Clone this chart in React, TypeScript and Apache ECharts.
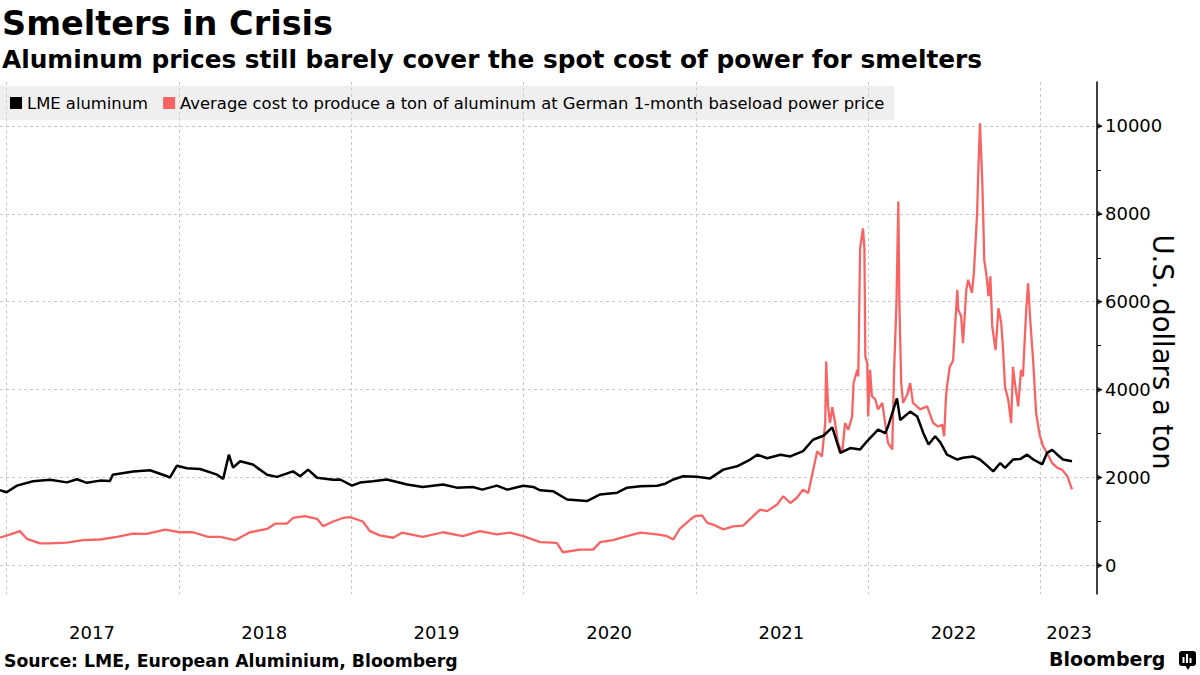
import React, { useEffect, useRef } from 'react';
import * as echarts from 'echarts';

const lmeDates = [
    '2016-12-18', '2017-01-01', '2017-01-23', '2017-02-26', '2017-04-03', '2017-05-09', '2017-05-30',
    '2017-06-20', '2017-07-18', '2017-08-08', '2017-08-14', '2017-09-26', '2017-11-01', '2017-12-07',
    '2017-12-13', '2017-12-28', '2018-01-18', '2018-02-15', '2018-03-23', '2018-04-05', '2018-04-17',
    '2018-04-26', '2018-05-11', '2018-06-07', '2018-07-07', '2018-07-28', '2018-08-31', '2018-09-15',
    '2018-10-02', '2018-10-21', '2018-11-24', '2018-12-09', '2019-01-03', '2019-01-20', '2019-02-16',
    '2019-03-18', '2019-04-30', '2019-06-02', '2019-07-15', '2019-08-13', '2019-09-16', '2019-10-06',
    '2019-11-06', '2019-11-28', '2020-01-01', '2020-01-22', '2020-02-06', '2020-03-04', '2020-04-03',
    '2020-05-15', '2020-06-12', '2020-07-18', '2020-08-08', '2020-09-05', '2020-10-11', '2020-10-28',
    '2020-11-14', '2020-12-05', '2021-01-03', '2021-01-31', '2021-02-28', '2021-03-29', '2021-04-26',
    '2021-05-11', '2021-06-01', '2021-06-29', '2021-07-20', '2021-08-16', '2021-09-06', '2021-09-28',
    '2021-10-17', '2021-11-03', '2021-11-24', '2021-12-15', '2021-12-30', '2022-01-22', '2022-02-06',
    '2022-02-12', '2022-03-03', '2022-03-10', '2022-03-31', '2022-04-15', '2022-04-28', '2022-05-09',
    '2022-05-23', '2022-06-03', '2022-06-17', '2022-07-09', '2022-07-21', '2022-08-11', '2022-08-26',
    '2022-09-10', '2022-09-23', '2022-10-08', '2022-10-18', '2022-11-04', '2022-11-19', '2022-12-04',
    '2022-12-17', '2023-01-05', '2023-01-15', '2023-01-26', '2023-02-06', '2023-02-18', '2023-03-09',
];
const lmeValues = [
    1710, 1665, 1815, 1915, 1950, 1890, 1960,
    1880, 1930, 1920, 2065, 2135, 2165, 2030,
    2000, 2270, 2210, 2195, 2065, 1970, 2520,
    2225, 2370, 2295, 2065, 2015, 2140, 2030,
    2180, 1995, 1950, 1955, 1815, 1885, 1915,
    1955, 1840, 1785, 1840, 1770, 1785, 1725,
    1815, 1725, 1815, 1785, 1710, 1690, 1500,
    1465, 1615, 1655, 1770, 1800, 1815, 1860,
    1955, 2030, 2020, 1980, 2180, 2255, 2410,
    2520, 2440, 2520, 2480, 2600, 2860, 2950,
    3140, 2560, 2670, 2640, 2830, 3090, 3010,
    3160, 3800, 3310, 3500, 3390, 3010, 2750,
    2940, 2800, 2520, 2410, 2450, 2480, 2410,
    2270, 2140, 2330, 2220, 2410, 2420, 2520,
    2410, 2300, 2560, 2630, 2520, 2410, 2370,
];

const costDates = [
    '2016-12-18', '2017-01-14', '2017-01-29', '2017-02-13', '2017-03-13', '2017-04-03', '2017-05-09',
    '2017-06-12', '2017-07-18', '2017-08-23', '2017-09-26', '2017-10-25', '2017-12-03', '2018-01-03',
    '2018-01-31', '2018-03-04', '2018-03-30', '2018-04-30', '2018-06-01', '2018-07-07', '2018-07-24',
    '2018-08-18', '2018-08-31', '2018-09-25', '2018-10-21', '2018-11-03', '2018-11-24', '2018-12-15',
    '2018-12-30', '2019-01-26', '2019-02-10', '2019-03-03', '2019-03-31', '2019-04-19', '2019-06-02',
    '2019-07-15', '2019-08-26', '2019-10-01', '2019-11-06', '2019-12-04', '2020-01-01', '2020-02-06',
    '2020-03-12', '2020-03-25', '2020-04-30', '2020-05-28', '2020-06-12', '2020-07-09', '2020-08-08',
    '2020-09-05', '2020-10-11', '2020-11-01', '2020-11-14', '2020-11-28', '2020-12-20', '2020-12-30',
    '2021-01-14', '2021-01-25', '2021-02-06', '2021-02-28', '2021-03-21', '2021-04-11', '2021-05-02',
    '2021-05-17', '2021-06-01', '2021-06-22', '2021-07-05', '2021-07-20', '2021-08-03', '2021-08-16',
    '2021-08-27', '2021-09-06', '2021-09-15', '2021-09-25', '2021-10-02', '2021-10-04', '2021-10-08',
    '2021-10-12', '2021-10-17', '2021-10-23', '2021-10-29', '2021-11-07', '2021-11-13', '2021-11-20',
    '2021-11-28', '2021-12-01', '2021-12-09', '2021-12-11', '2021-12-15', '2021-12-21', '2021-12-24',
    '2021-12-26', '2021-12-30', '2022-01-01', '2022-01-05', '2022-01-09', '2022-01-16', '2022-01-22',
    '2022-01-31', '2022-02-06', '2022-02-12', '2022-02-21', '2022-02-25', '2022-03-02', '2022-03-06',
    '2022-03-08', '2022-03-12', '2022-03-16', '2022-03-25', '2022-03-31', '2022-04-06', '2022-04-21',
    '2022-05-06', '2022-05-19', '2022-05-29', '2022-06-07', '2022-06-11', '2022-06-15', '2022-06-17',
    '2022-06-23', '2022-06-30', '2022-07-04', '2022-07-09', '2022-07-11', '2022-07-17', '2022-07-21',
    '2022-07-28', '2022-08-01', '2022-08-09', '2022-08-13', '2022-08-20', '2022-08-22', '2022-08-26',
    '2022-08-31', '2022-09-02', '2022-09-04', '2022-09-09', '2022-09-13', '2022-09-17', '2022-09-21',
    '2022-09-28', '2022-10-02', '2022-10-04', '2022-10-10', '2022-10-14', '2022-10-18', '2022-10-25',
    '2022-10-31', '2022-11-04', '2022-11-08', '2022-11-15', '2022-11-21', '2022-11-25', '2022-12-02',
    '2022-12-06', '2022-12-10', '2022-12-17', '2022-12-23', '2022-12-31', '2023-01-07', '2023-01-15',
    '2023-01-26', '2023-02-06', '2023-02-16', '2023-02-27', '2023-03-09',
];
const costValues = [
    630, 725, 780, 605, 500, 500, 520,
    575, 590, 650, 725, 720, 815, 755,
    755, 650, 650, 575, 755, 830, 950,
    950, 1080, 1120, 1060, 890, 1000, 1080,
    1100, 1000, 780, 685, 630, 745, 650,
    755, 665, 780, 705, 745, 665, 530,
    515, 300, 360, 360, 530, 575, 665,
    745, 705, 665, 590, 840, 1045, 1120,
    1140, 970, 930, 820, 890, 905, 1120,
    1270, 1235, 1385, 1575, 1420, 1540, 1725,
    1650, 2150, 2600, 2480, 3240, 4640, 3630,
    3240, 3600, 3240, 2790, 2560, 3240, 3090,
    3390, 4150, 4450, 4300, 7220, 7670, 7220,
    4750, 4600, 3390, 4450, 3850, 3780, 3550,
    3700, 3240, 2790, 2640, 4450, 5970, 8280,
    6050, 4150, 3700, 3890, 4150, 3700, 3550,
    3620, 3240, 3160, 3200, 2940, 3840, 4070,
    4520, 4660, 5400, 6270, 5820, 5670, 5060,
    6270, 6500, 6200, 6650, 8015, 8840, 10060,
    8690, 7860, 6950, 6580, 6130, 6580, 5440,
    4900, 5520, 5850, 5520, 4900, 4070, 3760,
    3240, 4520, 4150, 3620, 4450, 4300, 5820,
    6420, 5670, 4600, 3460, 2940, 2710, 2560,
    2330, 2220, 2180, 2030, 1730,
];

const yearStarts = ['2017-01-01', '2018-01-01', '2019-01-01', '2020-01-01', '2021-01-01', '2022-01-01', '2023-01-01'];
const yearLabelDates = ['2017-07-01', '2018-07-01', '2019-07-01', '2020-07-01', '2021-07-01', '2022-07-01', '2023-03-03'];
const yLabelValues = [0, 2000, 4000, 6000, 8000, 10000];
const yMinorValues = [1000, 3000, 5000, 7000, 9000];

const X_MIN = '2016-12-18';
const X_MAX = '2023-05-01';
const FONT = 'DejaVu Sans';
const RED = '#f86464';

const ts = (d: string) => Date.UTC(+d.slice(0, 4), +d.slice(5, 7) - 1, +d.slice(8, 10));

const App: React.FC = () => {
    const chartRef = useRef<HTMLDivElement>(null);

    useEffect(() => {
        const chart = echarts.init(chartRef.current!, null, { renderer: 'svg' });
        const xMaxTs = ts(X_MAX);

        const options = {
            animation: false,
            textStyle: { fontFamily: FONT },
            title: [
                {
                    text: 'Smelters in Crisis',
                    left: 0,
                    top: 6,
                    padding: [0, 2],
                    textStyle: { fontSize: 33.5, fontWeight: 'bold', color: '#000', fontFamily: FONT },
                },
                {
                    text: 'Aluminum prices still barely cover the spot cost of power for smelters',
                    left: 0,
                    top: 47,
                    padding: [0, 2],
                    textStyle: { fontSize: 24.8, fontWeight: 'bold', color: '#000', fontFamily: FONT },
                },
                {
                    text: 'Source: LME, European Aluminium, Bloomberg',
                    left: 4,
                    top: 652,
                    padding: 0,
                    textStyle: { fontSize: 17.3, fontWeight: 'bold', color: '#000', fontFamily: FONT },
                },
            ],
            legend: {
                data: ['LME aluminum', 'Average cost to produce a ton of aluminum at German 1-month baseload power price'],
                left: 0,
                top: 86,
                padding: [9, 10, 9, 10],
                itemGap: 15,
                itemWidth: 12,
                itemHeight: 12,
                icon: 'rect',
                backgroundColor: 'rgba(215,215,215,0.4)',
                textStyle: { fontSize: 16.4, color: '#000', fontFamily: FONT },
            },
            grid: { left: 0, right: 103, top: 82, bottom: 81, outerBoundsMode: 'none', containLabel: false },
            xAxis: {
                type: 'value',
                min: ts(X_MIN),
                max: xMaxTs,
                axisLine: { show: false },
                axisTick: { show: false, customValues: yearStarts.map(ts) },
                axisLabel: {
                    customValues: yearLabelDates.map(ts),
                    formatter: (v: number) => String(new Date(v).getUTCFullYear()),
                    fontSize: 18,
                    color: '#000',
                    margin: 29,
                    fontFamily: FONT,
                },
                splitLine: { show: true, lineStyle: { color: '#c8c8c8', type: [3, 3], width: 1 } },
            },
            yAxis: [
                {
                    type: 'value',
                    position: 'right',
                    min: -650,
                    max: 11000,
                    name: 'U.S. dollars a ton',
                    nameLocation: 'middle',
                    nameRotate: -90,
                    nameGap: 52,
                    nameMoveOverlap: false,
                    nameTextStyle: { fontSize: 27.5, color: '#000', fontFamily: FONT, padding: [0, 0, 0, 28] },
                    axisLine: { show: true, lineStyle: { color: '#000', width: 1.5 } },
                    axisTick: { show: true, customValues: yLabelValues, length: 5, lineStyle: { color: '#000', width: 1 } },
                    axisLabel: {
                        customValues: yLabelValues,
                        formatter: (v: number) => String(v),
                        fontSize: 18,
                        color: '#000',
                        margin: 8,
                        fontFamily: FONT,
                    },
                    splitLine: { show: true, lineStyle: { color: '#c8c8c8', type: [3, 3], width: 1 } },
                },
                {
                    type: 'value',
                    position: 'right',
                    min: -650,
                    max: 11000,
                    axisLine: { show: false },
                    axisTick: { show: true, customValues: yMinorValues, length: 4, lineStyle: { color: '#000', width: 1 } },
                    axisLabel: { show: false },
                    splitLine: { show: false },
                },
            ],
            series: [
                {
                    name: 'LME aluminum',
                    type: 'line',
                    data: lmeDates.map((d, i) => [ts(d), lmeValues[i]]),
                    showSymbol: false,
                    color: '#000',
                    lineStyle: { color: '#000', width: 2.5 },
                    z: 3,
                },
                {
                    name: 'Average cost to produce a ton of aluminum at German 1-month baseload power price',
                    type: 'line',
                    data: costDates.map((d, i) => [ts(d), costValues[i]]),
                    showSymbol: false,
                    color: RED,
                    lineStyle: { color: RED, width: 2.3 },
                    z: 2,
                },
                {
                    name: 'tickMarks',
                    type: 'scatter',
                    data: yLabelValues.map(v => [xMaxTs, v]),
                    symbol: 'triangle',
                    symbolRotate: -90,
                    symbolSize: [6, 5],
                    symbolOffset: [3, 0],
                    clip: false,
                    silent: true,
                    itemStyle: { color: '#000' },
                    z: 5,
                },
            ],
            graphic: [
                {
                    type: 'text',
                    left: 1049,
                    top: 649,
                    style: { text: 'Bloomberg', font: 'bold 19px "DejaVu Sans"', fill: '#000' },
                },
                {
                    type: 'rect',
                    left: 1179,
                    top: 651,
                    shape: { width: 17, height: 15, r: 3 },
                    style: { fill: '#000' },
                },
                {
                    type: 'polygon',
                    shape: { points: [[1185, 665], [1191, 665], [1188, 670]] },
                    style: { fill: '#000' },
                },
                {
                    type: 'rect',
                    shape: { x: 1182.5, y: 657, width: 2, height: 6 },
                    style: { fill: '#fff' },
                },
                {
                    type: 'rect',
                    shape: { x: 1186, y: 654, width: 2, height: 9 },
                    style: { fill: '#fff' },
                },
                {
                    type: 'rect',
                    shape: { x: 1189.5, y: 658, width: 2, height: 5 },
                    style: { fill: '#fff' },
                },
            ],
        };

        chart.setOption(options as any);
        return () => {
            chart.dispose();
        };
    }, []);

    return (
        <div
            ref={chartRef}
            style={{ position: 'fixed', left: 0, top: 0, width: 1200, height: 675, background: '#fff' }}
        />
    );
};

export default App;
